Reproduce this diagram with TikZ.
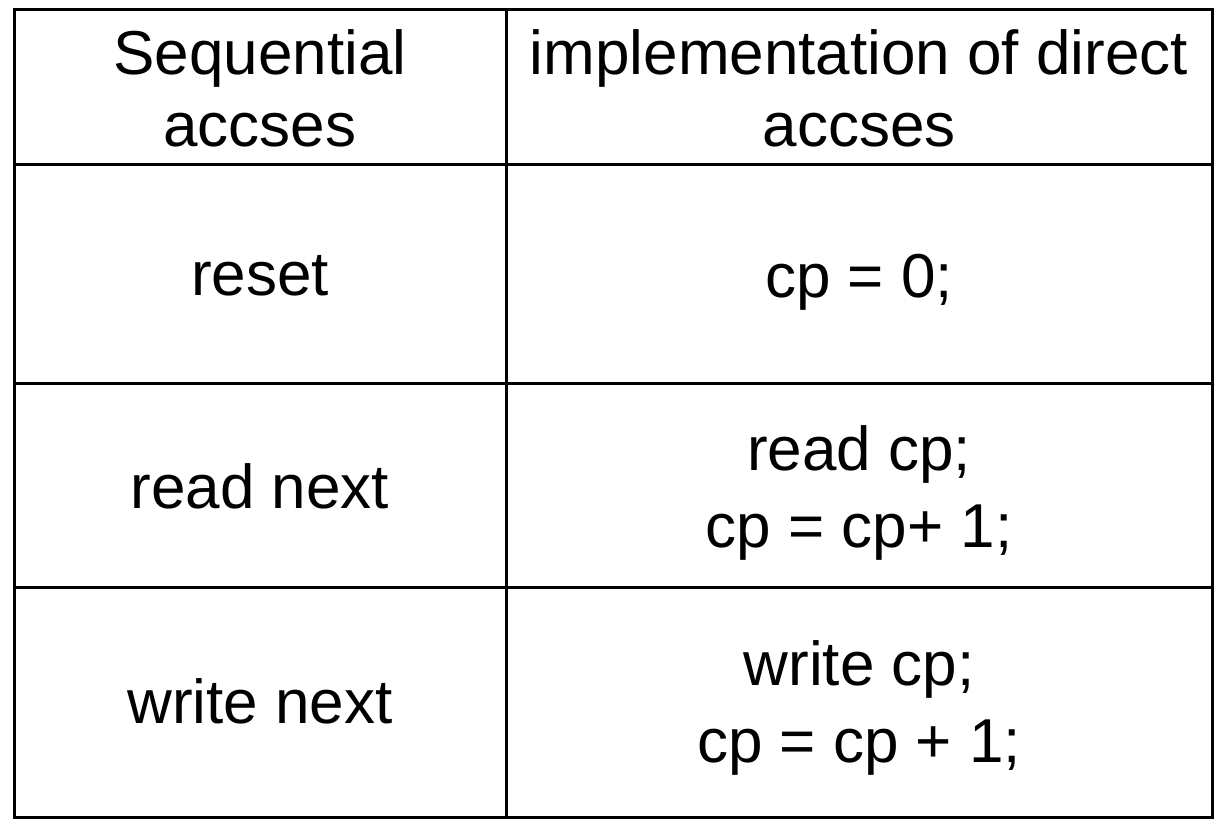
\documentclass[tikz,border=0pt]{standalone}
\usepackage{fontspec}
\setmainfont{Liberation Sans}
\usepackage{tikz}

\begin{document}
\begin{tikzpicture}[
			x = 0.5pt, y = -0.5pt,
			every node/.style = {align=center, font=\fontsize{31}{36}\selectfont},
			grid/.style = {line width=1.5pt, black},
			code/.style = {font=\fontsize{31}{38.5}\selectfont}
			]

			\useasboundingbox (0,0) rectangle (1224,820);

			% frame and rules
			\draw[grid] (14.5,9.5) rectangle (1212,817);
			\draw[grid] (506,9.5) -- (506,817);
			\foreach \y in {164,383,587}
				\draw[grid] (14.5,\y) -- (1212,\y);

			% header
			\node (head1) at (260,88) {Sequential\\accses};
			\node (head2) at (859,88) {implementation of direct\\accses};

			% rows
			\node[anchor=base] (reset) at (260,295) {reset};
			\node[anchor=base] (resetimpl) at (859,297) {cp = 0;};
			\node[anchor=base] (read) at (260,508) {read next};
			\node[code] (readimpl) at (859,492.5) {read cp;\\cp = cp+ 1;};
			\node[anchor=base] (write) at (260,723) {write next};
			\node[code] (writeimpl) at (859,708) {write cp;\\cp = cp + 1;};

		\end{tikzpicture}
\end{document}
